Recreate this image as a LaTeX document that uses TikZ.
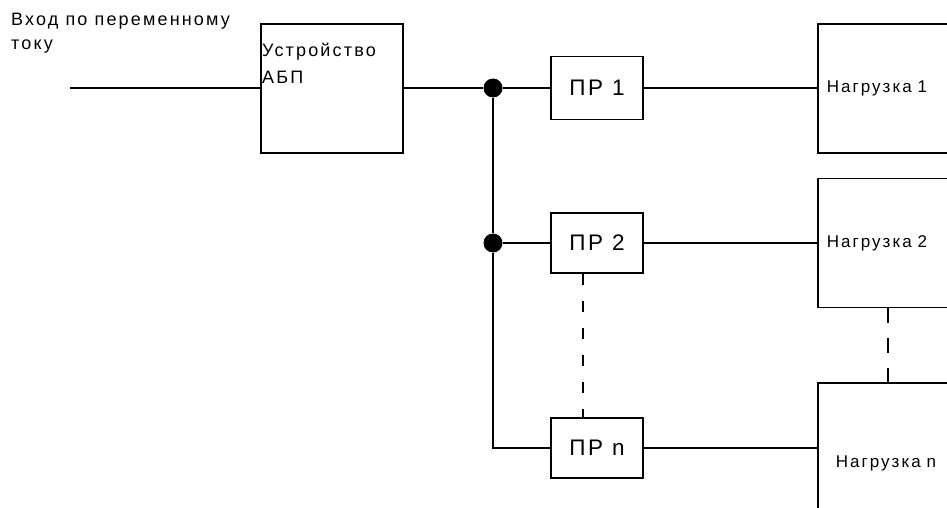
\documentclass[tikz,border=0pt]{standalone}
\usepackage{fontspec}
\setmainfont{Liberation Sans}[LetterSpace=12]
\begin{document}
\begin{tikzpicture}[x=1pt,y=-1pt,
  wire/.style={line width=1.6pt},
  box/.style={draw,line width=1.6pt,inner sep=0pt},
  prbox/.style={box,minimum width=92pt,minimum height=62pt,font=\fontsize{22.5}{24}\selectfont},
  loadbox/.style={box,anchor=west,minimum width=200pt,text width=186pt,align=left,inner xsep=9pt,font=\fontsize{17}{20}\selectfont},
  dot/.style={circle,fill=black,inner sep=0pt,minimum size=19pt},
  lbl/.style={inner sep=0pt,align=left,font=\fontsize{18}{24}\selectfont}]
\useasboundingbox (0,0) rectangle (947,508);
\clip (0,0) rectangle (947,508);
% input label
\node[lbl,anchor=north west] (inlbl) at (11,13) {Вход по переменному\\току};
% UPS
\node[box,minimum width=142pt,minimum height=129pt] (ups) at (332,88.5) {};
\node[lbl,anchor=north west,font=\fontsize{18}{27}\selectfont] (upslbl) at (262,43) {Устройство\\АБП};
\coordinate (in) at (70,88);
% junctions
\node[dot] (j1) at (493,88) {};
\node[dot] (j2) at (493,243) {};
\coordinate (j3) at (493,448);
% PR boxes
\node[prbox,minimum height=63pt] (pr1) at (597,88) {ПР 1};
\node[prbox,minimum height=60pt] (pr2) at (597,243) {ПР 2};
\node[prbox,minimum height=60pt] (prn) at (597,448) {ПР n};
% loads
\node[loadbox,minimum height=129pt] (l1) at (817,88.5) {Нагрузка 1};
\node[loadbox,minimum height=129pt] (l2) at (817,243) {Нагрузка 2};
\node[loadbox,minimum height=160pt,inner xsep=18pt] (ln) at (817,463) {Нагрузка n};
% wires
\draw[wire] (in) -- (ups.west |- in);
\draw[wire] (ups.east |- j1) -- (j1) -- (pr1.west);
\draw[wire] (j1) -- (j2) -- (j3) -- (prn.west);
\draw[wire] (j2) -- (pr2.west);
\draw[wire] (pr1.east) -- (l1.west |- pr1.east);
\draw[wire] (pr2.east) -- (l2.west |- pr2.east);
\draw[wire] (prn.east) -- (ln.west |- prn.east);
\draw[wire,dash pattern=on 11pt off 16pt] ([xshift=-14pt]pr2.south) -- ([xshift=-14pt]prn.north);
\draw[wire,dash pattern=on 15pt off 15pt] (l2.south west) ++(71,0) coordinate (d1) -- (d1 |- ln.north);
\end{tikzpicture}
\end{document}
